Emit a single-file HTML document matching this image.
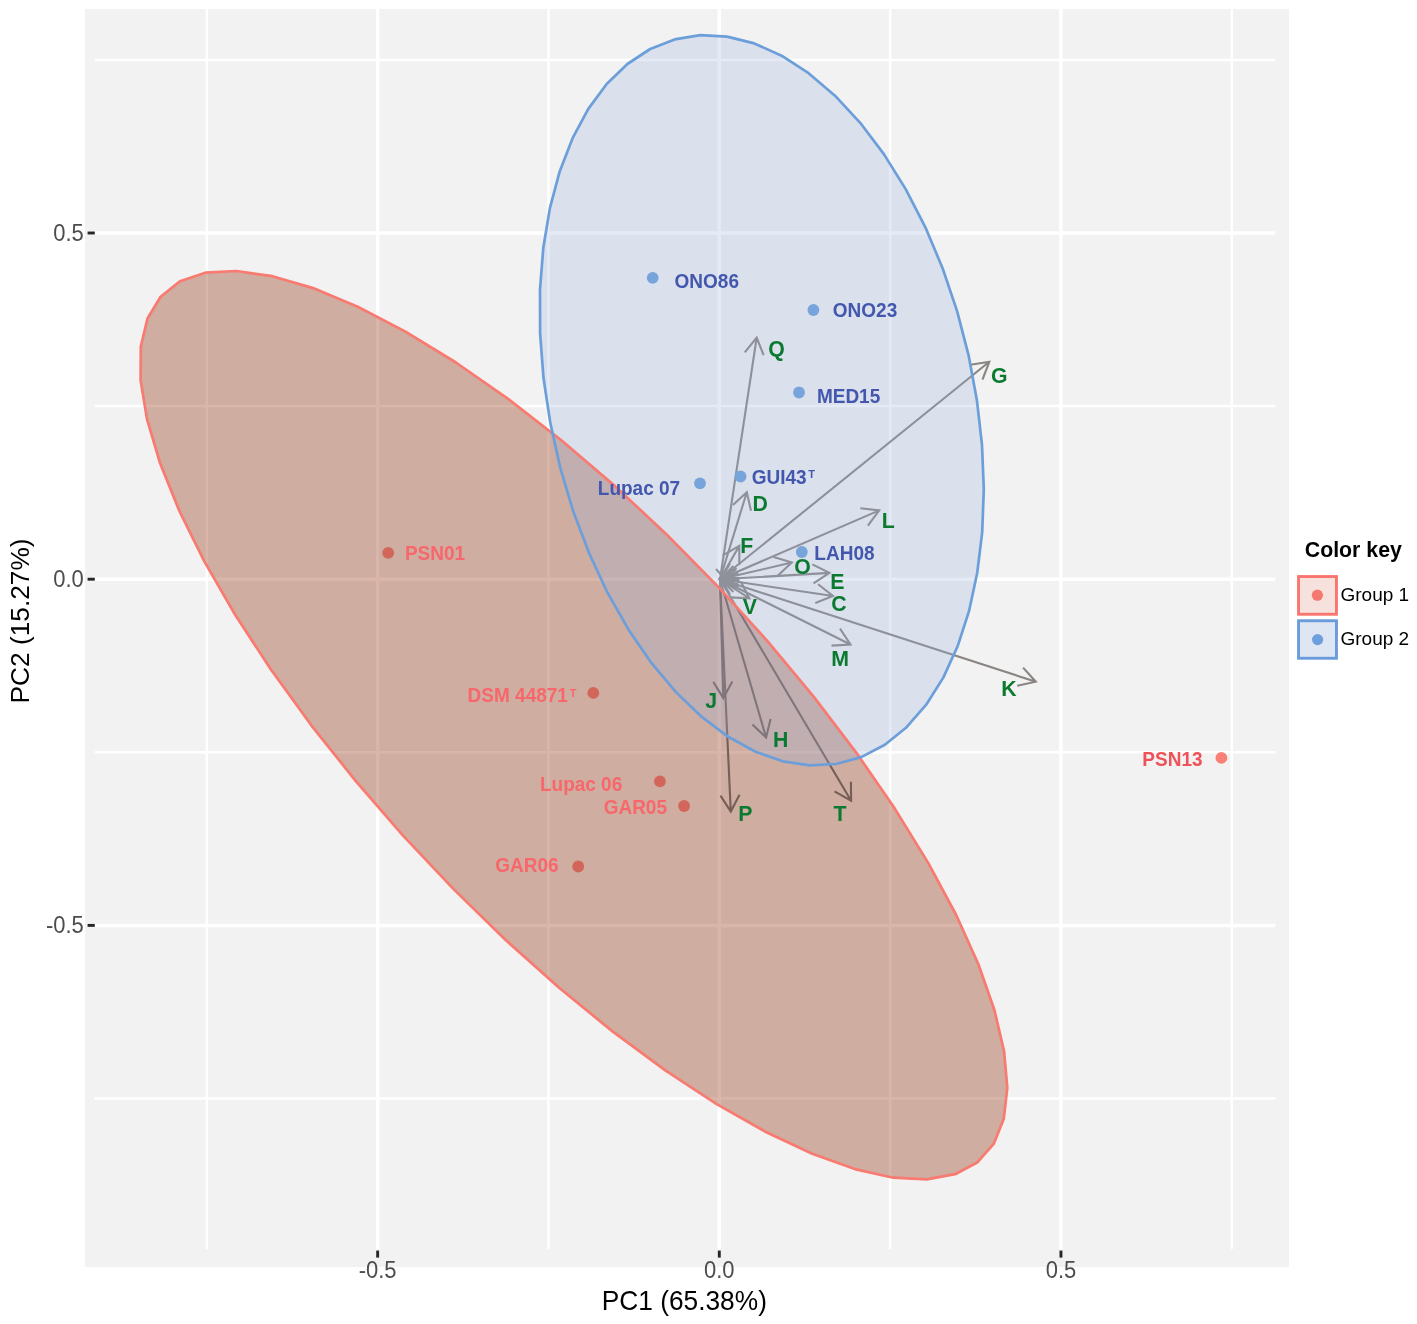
<!DOCTYPE html>
<html><head><meta charset="utf-8"><title>PCA biplot</title>
<style>html,body{margin:0;padding:0;background:#FFFFFF;width:1417px;height:1324px;overflow:hidden;position:relative;font-family:"Liberation Sans",sans-serif;}</style>
</head><body>
<svg width="1417" height="1324" viewBox="0 0 1417 1324" style="position:absolute;left:0;top:0" font-family="Liberation Sans, sans-serif">
<rect x="85" y="9" width="1204" height="1258" fill="#F2F2F2"/>
<g stroke="#FFFFFF"><line x1="94.6" y1="59.90" x2="1275.3" y2="59.90" stroke-width="2.5"/><line x1="94.6" y1="233.00" x2="1275.3" y2="233.00" stroke-width="3.5"/><line x1="94.6" y1="406.10" x2="1275.3" y2="406.10" stroke-width="2.5"/><line x1="94.6" y1="579.20" x2="1275.3" y2="579.20" stroke-width="3.5"/><line x1="94.6" y1="752.30" x2="1275.3" y2="752.30" stroke-width="2.5"/><line x1="94.6" y1="925.40" x2="1275.3" y2="925.40" stroke-width="3.5"/><line x1="94.6" y1="1098.50" x2="1275.3" y2="1098.50" stroke-width="2.5"/><line x1="206.83" y1="9" x2="206.83" y2="1249" stroke-width="2.5"/><line x1="377.65" y1="9" x2="377.65" y2="1249" stroke-width="3.5"/><line x1="548.47" y1="9" x2="548.47" y2="1249" stroke-width="2.5"/><line x1="719.30" y1="9" x2="719.30" y2="1249" stroke-width="3.5"/><line x1="890.12" y1="9" x2="890.12" y2="1249" stroke-width="2.5"/><line x1="1060.95" y1="9" x2="1060.95" y2="1249" stroke-width="3.5"/><line x1="1231.77" y1="9" x2="1231.77" y2="1249" stroke-width="2.5"/></g>
<g fill="none" stroke="#8A8582" stroke-width="2.1"><path d="M720.0,579.3L756.7,337.5M744.8,352.3L756.7,337.5L763.6,355.2"/><path d="M720.0,579.3L989.3,361.8M970.5,364.7L989.3,361.8L982.5,379.5"/><path d="M720.0,579.3L746.8,492.2M732.9,505.1L746.8,492.2L751.0,510.7"/><path d="M720.0,579.3L879.2,510.4M860.3,508.2L879.2,510.4L867.9,525.7"/><path d="M720.0,579.3L739.3,545.9M722.8,555.4L739.3,545.9L739.3,564.9"/><path d="M720.0,579.3L791.8,562.5M773.6,557.0L791.8,562.5L777.9,575.5"/><path d="M720.0,579.3L829.4,572.9M812.4,564.4L829.4,572.9L813.5,583.3"/><path d="M720.0,579.3L833.0,596.0M818.1,584.2L833.0,596.0L815.3,603.0"/><path d="M720.0,579.3L749.4,598.4M740.8,581.5L749.4,598.4L730.4,597.4"/><path d="M720.0,579.3L850.5,644.5M840.0,628.6L850.5,644.5L831.5,645.6"/><path d="M720.0,579.3L1035.8,681.7M1023.1,667.6L1035.8,681.7L1017.2,685.7"/><path d="M720.0,579.3L723.3,698.1M732.3,681.4L723.3,698.1L713.3,681.9"/><path d="M720.0,579.3L766.1,737.5M770.6,719.0L766.1,737.5L752.4,724.4"/><path d="M720.0,579.3L730.8,811.6M739.5,794.7L730.8,811.6L720.5,795.6"/><path d="M720.0,579.3L851.1,800.7M850.9,781.7L851.1,800.7L834.5,791.4"/><path d="M736.0,588.5L719.5,579.0L736.0,569.5"/><path d="M733.4,591.9L720.0,578.5L738.4,573.6"/><path d="M738.4,584.4L720.0,579.5L733.4,566.1"/><path d="M730.0,594.5L720.5,578.0L739.5,578.0"/><path d="M739.5,580.0L720.5,580.0L730.0,563.5"/><path d="M738.2,587.0L721.0,579.0L736.6,568.1"/><path d="M716,569L724,578"/></g>
<g fill-opacity="0.8"><circle cx="388.2" cy="552.9" r="5.9" fill="#F8766D"/><circle cx="593.3" cy="692.9" r="5.9" fill="#F8766D"/><circle cx="659.9" cy="781.3" r="5.9" fill="#F8766D"/><circle cx="684.1" cy="806.0" r="5.9" fill="#F8766D"/><circle cx="578.2" cy="866.5" r="5.9" fill="#F8766D"/></g>
<circle cx="1221.4" cy="757.9" r="5.9" fill="#F8766D" fill-opacity="0.92"/>
<g><circle cx="652.7" cy="277.8" r="5.9" fill="#6AA0DB"/><circle cx="813.4" cy="310.0" r="5.9" fill="#6AA0DB"/><circle cx="799.0" cy="392.5" r="5.9" fill="#6AA0DB"/><circle cx="740.5" cy="476.5" r="5.9" fill="#6AA0DB"/><circle cx="700.0" cy="483.3" r="5.9" fill="#6AA0DB"/><circle cx="801.8" cy="552.0" r="5.9" fill="#6AA0DB"/></g>
<path d="M977.6,1162.2L955.1,1174.2L926.9,1179.4L893.3,1177.7L854.9,1169.1L812.2,1153.8L765.9,1132.0L716.7,1104.1L665.3,1070.3L612.5,1031.4L559.1,987.8L505.9,940.3L453.8,889.4L403.5,836.1L355.8,781.1L311.3,725.3L270.9,669.5L235.0,614.5L204.2,561.1L179.1,510.3L159.9,462.7L147.0,419.1L140.6,380.2L140.8,346.5L147.5,318.5L160.6,296.7L180.0,281.3L205.4,272.7L236.4,271.0L272.4,276.2L313.1,288.1L357.7,306.7L405.5,331.6L455.9,362.5L508.1,398.9L561.3,440.2L614.7,485.9L667.4,535.2L718.7,587.4L767.9,641.6L814.0,697.1L856.6,753.1L894.8,808.6L928.2,862.9L956.2,915.0L978.4,964.3L994.4,1010.0L1004.1,1051.4L1007.3,1087.8L1003.8,1118.7L993.9,1143.6Z" fill="rgb(218,182,170)" style="mix-blend-mode:multiply"/>
<path d="M836.1,764.0L809.8,765.4L782.8,761.3L755.5,751.7L728.2,736.8L701.5,716.7L675.7,691.9L651.2,662.7L628.4,629.4L607.5,592.7L589.1,553.1L573.2,511.2L560.2,467.6L550.3,422.9L543.5,378.0L540.1,333.3L540.0,289.7L543.3,247.8L549.9,208.1L559.7,171.4L572.6,138.2L588.3,108.9L606.7,84.0L627.4,64.0L650.2,49.0L674.6,39.4L700.4,35.2L727.1,36.6L754.3,43.4L781.6,55.7L808.6,73.2L835.0,95.7L860.2,122.8L883.9,154.1L905.7,189.1L925.4,227.3L942.6,268.2L957.1,311.1L968.6,355.3L976.9,400.2L982.0,445.0L983.8,489.3L982.2,532.1L977.2,573.0L969.0,611.2L957.6,646.3L943.3,677.6L926.2,704.7L906.6,727.2L884.9,744.8L861.2,757.1Z" fill="rgb(157,179,223)" fill-opacity="0.27"/>
<path d="M977.6,1162.2L955.1,1174.2L926.9,1179.4L893.3,1177.7L854.9,1169.1L812.2,1153.8L765.9,1132.0L716.7,1104.1L665.3,1070.3L612.5,1031.4L559.1,987.8L505.9,940.3L453.8,889.4L403.5,836.1L355.8,781.1L311.3,725.3L270.9,669.5L235.0,614.5L204.2,561.1L179.1,510.3L159.9,462.7L147.0,419.1L140.6,380.2L140.8,346.5L147.5,318.5L160.6,296.7L180.0,281.3L205.4,272.7L236.4,271.0L272.4,276.2L313.1,288.1L357.7,306.7L405.5,331.6L455.9,362.5L508.1,398.9L561.3,440.2L614.7,485.9L667.4,535.2L718.7,587.4L767.9,641.6L814.0,697.1L856.6,753.1L894.8,808.6L928.2,862.9L956.2,915.0L978.4,964.3L994.4,1010.0L1004.1,1051.4L1007.3,1087.8L1003.8,1118.7L993.9,1143.6Z" fill="none" stroke="#F87A70" stroke-width="2.7" stroke-linejoin="round"/>
<path d="M836.1,764.0L809.8,765.4L782.8,761.3L755.5,751.7L728.2,736.8L701.5,716.7L675.7,691.9L651.2,662.7L628.4,629.4L607.5,592.7L589.1,553.1L573.2,511.2L560.2,467.6L550.3,422.9L543.5,378.0L540.1,333.3L540.0,289.7L543.3,247.8L549.9,208.1L559.7,171.4L572.6,138.2L588.3,108.9L606.7,84.0L627.4,64.0L650.2,49.0L674.6,39.4L700.4,35.2L727.1,36.6L754.3,43.4L781.6,55.7L808.6,73.2L835.0,95.7L860.2,122.8L883.9,154.1L905.7,189.1L925.4,227.3L942.6,268.2L957.1,311.1L968.6,355.3L976.9,400.2L982.0,445.0L983.8,489.3L982.2,532.1L977.2,573.0L969.0,611.2L957.6,646.3L943.3,677.6L926.2,704.7L906.6,727.2L884.9,744.8L861.2,757.1Z" fill="none" stroke="#6C9FDA" stroke-width="2.7" stroke-linejoin="round"/>
<g><text transform="translate(674.60,287.96) scale(1,1.05)" font-size="19.0" fill="#4257AD" font-weight="bold">ONO86</text><text transform="translate(832.85,317.46) scale(1,1.05)" font-size="19.0" fill="#4257AD" font-weight="bold">ONO23</text><text transform="translate(816.90,402.86) scale(1,1.05)" font-size="19.0" fill="#4257AD" font-weight="bold">MED15</text><text transform="translate(751.75,484.46) scale(1,1.05)" font-size="19.0" fill="#4257AD" font-weight="bold">GUI43</text><text transform="translate(597.80,494.51) scale(1,1.05)" font-size="19.0" fill="#4257AD" font-weight="bold">Lupac 07</text><text transform="translate(814.37,559.66) scale(1,1.05)" font-size="19.0" fill="#4257AD" font-weight="bold">LAH08</text><text transform="translate(404.93,559.56) scale(1,1.05)" font-size="19.0" fill="#F7676B" font-weight="bold">PSN01</text><text transform="translate(467.61,702.26) scale(1,1.05)" font-size="19.0" fill="#F7676B" font-weight="bold">DSM 44871</text><text transform="translate(539.93,790.96) scale(1,1.05)" font-size="19.0" fill="#F7676B" font-weight="bold">Lupac 06</text><text transform="translate(603.65,813.86) scale(1,1.05)" font-size="19.0" fill="#F7676B" font-weight="bold">GAR05</text><text transform="translate(495.18,872.26) scale(1,1.05)" font-size="19.0" fill="#F7676B" font-weight="bold">GAR06</text><text transform="translate(1142.36,766.46) scale(1,1.05)" font-size="19.0" fill="#EE5258" font-weight="bold">PSN13</text><text x="808.14" y="478.43" font-size="11" fill="#4257AD" font-weight="bold">T</text><text x="569.69" y="696.68" font-size="11" fill="#F7676B" font-weight="bold">T</text><text transform="translate(768.28,355.62) scale(1,1.06)" font-size="21.3" fill="#0B7A30" font-weight="bold">Q</text><text transform="translate(990.94,382.92) scale(1,1.06)" font-size="21.3" fill="#0B7A30" font-weight="bold">G</text><text transform="translate(752.54,511.47) scale(1,1.06)" font-size="21.3" fill="#0B7A30" font-weight="bold">D</text><text transform="translate(881.66,527.72) scale(1,1.06)" font-size="21.3" fill="#0B7A30" font-weight="bold">L</text><text transform="translate(740.32,553.17) scale(1,1.06)" font-size="21.3" fill="#0B7A30" font-weight="bold">F</text><text transform="translate(794.33,573.97) scale(1,1.06)" font-size="21.3" fill="#0B7A30" font-weight="bold">O</text><text transform="translate(830.15,589.32) scale(1,1.06)" font-size="21.3" fill="#0B7A30" font-weight="bold">E</text><text transform="translate(831.26,611.12) scale(1,1.06)" font-size="21.3" fill="#0B7A30" font-weight="bold">C</text><text transform="translate(742.85,614.37) scale(1,1.06)" font-size="21.3" fill="#0B7A30" font-weight="bold">V</text><text transform="translate(831.33,665.67) scale(1,1.06)" font-size="21.3" fill="#0B7A30" font-weight="bold">M</text><text transform="translate(1001.15,695.67) scale(1,1.06)" font-size="21.3" fill="#0B7A30" font-weight="bold">K</text><text transform="translate(705.34,707.52) scale(1,1.06)" font-size="21.3" fill="#0B7A30" font-weight="bold">J</text><text transform="translate(773.06,747.27) scale(1,1.06)" font-size="21.3" fill="#0B7A30" font-weight="bold">H</text><text transform="translate(738.25,820.72) scale(1,1.06)" font-size="21.3" fill="#0B7A30" font-weight="bold">P</text><text transform="translate(833.59,820.57) scale(1,1.06)" font-size="21.3" fill="#0B7A30" font-weight="bold">T</text></g>
<g stroke="#262626" stroke-width="2.9"><line x1="87.6" y1="233.00" x2="94.8" y2="233.00"/><line x1="1060.95" y1="1250.6" x2="1060.95" y2="1257.6"/><line x1="87.6" y1="579.20" x2="94.8" y2="579.20"/><line x1="719.30" y1="1250.6" x2="719.30" y2="1257.6"/><line x1="87.6" y1="925.40" x2="94.8" y2="925.40"/><line x1="377.65" y1="1250.6" x2="377.65" y2="1257.6"/></g>
<g><text transform="translate(83.80,232.50) scale(1,1.08)" y="7.70" font-size="22" fill="#4D4D4D" text-anchor="end">0.5</text><text transform="translate(1060.95,1269.90) scale(1,1.08)" y="7.70" font-size="22" fill="#4D4D4D" text-anchor="middle">0.5</text><text transform="translate(83.80,578.70) scale(1,1.08)" y="7.70" font-size="22" fill="#4D4D4D" text-anchor="end">0.0</text><text transform="translate(719.30,1269.90) scale(1,1.08)" y="7.70" font-size="22" fill="#4D4D4D" text-anchor="middle">0.0</text><text transform="translate(83.80,924.90) scale(1,1.08)" y="7.70" font-size="22" fill="#4D4D4D" text-anchor="end">-0.5</text><text transform="translate(377.65,1269.90) scale(1,1.08)" y="7.70" font-size="22" fill="#4D4D4D" text-anchor="middle">-0.5</text><text transform="translate(684.30,1300.70) scale(1,1.04)" y="9.21" font-size="26.3" fill="#000" text-anchor="middle">PC1 (65.38%)</text><text transform="translate(28.7,621) rotate(-90)" font-size="26.3" fill="#000" text-anchor="middle">PC2 (15.27%)</text><text transform="translate(1304.80,549.84) scale(1,1.0)" y="7.46" font-size="21.3" fill="#000" font-weight="bold" text-anchor="start">Color key</text><text transform="translate(1340.50,593.95) scale(1,1.0)" y="6.65" font-size="19" fill="#000" text-anchor="start">Group 1</text><text transform="translate(1340.50,638.35) scale(1,1.0)" y="6.65" font-size="19" fill="#000" text-anchor="start">Group 2</text></g>
<rect x="1298.55" y="576.55" width="37.9" height="37.7" fill="#F7E1DC" stroke="#F8766D" stroke-width="2.9"/>
<circle cx="1317.4" cy="595.2" r="5.6" fill="#F47A70"/>
<rect x="1298.55" y="620.75" width="37.9" height="37.5" fill="#DFE6F3" stroke="#6A9BDA" stroke-width="2.9"/>
<circle cx="1317.6" cy="639.6" r="5.6" fill="#6C9FDC"/>
</svg>
</body></html>
